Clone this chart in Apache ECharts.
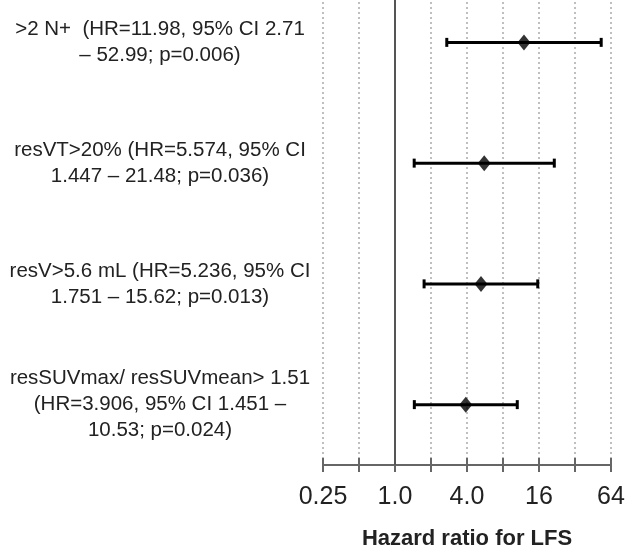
<!DOCTYPE html>
<html>
<head>
<meta charset="utf-8">
<script src="https://cdn.jsdelivr.net/npm/echarts@6/dist/echarts.min.js"></script>
<style>html,body{margin:0;padding:0;background:#fff}#c{width:630px;height:546px}</style>
</head>
<body>
<div id="c"></div>
<script>
const categories = [
  '>2 N+  (HR=11.98, 95% CI 2.71\n– 52.99; p=0.006)',
  'resVT>20% (HR=5.574, 95% CI\n1.447 – 21.48; p=0.036)',
  'resV>5.6 mL (HR=5.236, 95% CI\n1.751 – 15.62; p=0.013)',
  'resSUVmax/ resSUVmean> 1.51\n(HR=3.906, 95% CI 1.451 –\n10.53; p=0.024)'
];
const hr = [11.98, 5.574, 5.236, 3.906];
const lower = [2.71, 1.447, 1.751, 1.451];
const upper = [52.99, 21.48, 15.62, 10.53];
const tickValues = [0.25, 1, 4, 16, 64];
const tickLabels = ['0.25', '1.0', '4.0', '16', '64'];

const FONT = '"Liberation Sans", Arial, sans-serif';
const chart = echarts.init(document.getElementById('c'));

function fmtTick(v) {
  for (let i = 0; i < tickValues.length; i++) {
    if (Math.abs(v - tickValues[i]) < 1e-6 * tickValues[i] + 1e-9) return tickLabels[i];
  }
  return '';
}

const option = {
  backgroundColor: '#fff',
  animation: false,
  grid: { left: 323, right: 19, top: -18, bottom: 81, containLabel: false, outerBoundsMode: 'none' },
  xAxis: [
    {
      type: 'log', logBase: 2, min: 0.25, max: 64,
      position: 'bottom',
      name: 'Hazard ratio for LFS', nameLocation: 'middle', nameGap: 63,
      nameTextStyle: { fontFamily: FONT, fontSize: 22, fontWeight: 'bold', color: '#222' },
      axisLine: { show: true, lineStyle: { color: '#666', width: 2 } },
      axisTick: { show: true, inside: false, length: 7, lineStyle: { color: '#666', width: 2 } },
      axisLabel: { formatter: fmtTick, fontFamily: FONT, fontSize: 25, color: '#222', margin: 20 },
      splitLine: { show: true, lineStyle: { color: '#aaa', width: 1.5, type: [2, 3] } },
      minorTick: { show: false }
    },
    {
      type: 'log', logBase: 2, min: 0.25, max: 64,
      position: 'bottom',
      axisLine: { show: false },
      axisTick: { show: true, inside: true, length: 7, lineStyle: { color: '#666', width: 2 } },
      axisLabel: { show: false },
      splitLine: { show: false }
    }
  ],
  yAxis: {
    type: 'category', inverse: true, data: categories,
    axisLine: { show: false }, axisTick: { show: false },
    splitLine: { show: false },
    axisLabel: {
      fontFamily: FONT, fontSize: 20.5, lineHeight: 26, color: '#222',
      align: 'center', margin: 163
    }
  },
  series: [
    {
      type: 'custom',
      xAxisIndex: 0,
      data: categories.map((c, i) => [i, lower[i], upper[i]]),
      encode: { y: 0, x: [1, 2] },
      renderItem: function (params, api) {
        const lo = api.coord([api.value(1), api.value(0)]);
        const hi = api.coord([api.value(2), api.value(0)]);
        const st = { stroke: '#000', lineWidth: 3 };
        return {
          type: 'group',
          children: [
            { type: 'line', shape: { x1: lo[0], y1: lo[1], x2: hi[0], y2: hi[1] }, style: st },
            { type: 'line', shape: { x1: lo[0], y1: lo[1] - 4.5, x2: lo[0], y2: lo[1] + 4.5 }, style: st },
            { type: 'line', shape: { x1: hi[0], y1: hi[1] - 4.5, x2: hi[0], y2: hi[1] + 4.5 }, style: st }
          ]
        };
      },
      markLine: {
        silent: true, symbol: 'none',
        label: { show: false },
        lineStyle: { color: '#555', width: 2, type: 'solid' },
        data: [{ xAxis: 1 }]
      },
      z: 3
    },
    {
      type: 'scatter',
      xAxisIndex: 0,
      data: hr.map((v, i) => [v, i]),
      symbol: 'diamond',
      symbolSize: [13, 16],
      itemStyle: { color: '#000' },
      z: 4
    }
  ]
};
chart.setOption(option);
</script>
</body>
</html>
